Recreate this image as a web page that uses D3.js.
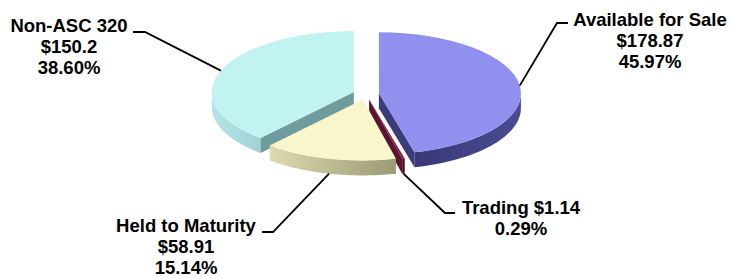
<!DOCTYPE html>
<html>
<head>
<meta charset="utf-8">
<script src="https://cdn.jsdelivr.net/npm/d3@7"></script>
<style>
  html, body { margin: 0; padding: 0; background: #fff; }
  svg { display: block; }
  text { font-family: "Liberation Sans", Arial, sans-serif; font-weight: bold; font-size: 18.5px; fill: #000; }
</style>
</head>
<body>
<div id="chart"></div>
<script>
// data
const categories = ["Available for Sale", "Trading", "Held to Maturity", "Non-ASC 320"];
const amounts = [178.87, 1.14, 58.91, 150.2];
const amountLabels = ["$178.87", "$1.14", "$58.91", "$150.2"];
const percentLabels = ["45.97%", "0.29%", "15.14%", "38.60%"];

const width = 732;
const height = 279;

// pie geometry
const cx = 366, cy = 94;
const rx = 142, ry = 61;
const depth = 15;
const explode = 13;
const k = ry / rx;

const colors = {
    "Available for Sale": { top: "#9090ef", wall: ["#383877", "#4b4b92"], cut: "#3b3b7a" },
    "Trading":            { top: "#7a2243", wall: ["#4a0f25", "#4a0f25"], cut: "#5a1431" },
    "Held to Maturity":   { top: "#f8f6cb", wall: ["#dcdab0", "#9c9a74"], cut: "#b4b28c" },
    "Non-ASC 320":        { top: "#c2f3f3", wall: ["#b4e4e7", "#a3d2d6"], cut: "#6e9c9d" }
};

// label layout: text centre x, first baseline, line elbow
const labelLayout = {
    "Available for Sale": { x: 650, y: 26, lines: d => [d.cat, d.amt, d.pct], from: [568, 23], elbow: [557, 23] },
    "Trading":            { x: 521, y: 214, lines: d => [d.cat + " " + d.amt, d.pct], from: [455, 213], elbow: [445, 213] },
    "Held to Maturity":   { x: 186, y: 232, lines: d => [d.cat, d.amt, d.pct], from: [262, 232], elbow: [273, 232] },
    "Non-ASC 320":        { x: 69, y: 32, lines: d => [d.cat, d.amt, d.pct], from: [133, 32], elbow: [145, 32] }
};
const lineH = 21;

const svg = d3.select("#chart")
    .append("svg")
    .attr("width", width)
    .attr("height", height);

const defs = svg.append("defs");

const pie = d3.pie().sort(null).value(d => d.value);
const arcs = pie(categories.map((c, i) => ({
    cat: c, value: amounts[i], amt: amountLabels[i], pct: percentLabels[i]
})));

const pt = (a, r = rx) => [r * Math.sin(a), -r * Math.cos(a) * k];
const line = d3.line();
const arcGen = d3.arc().innerRadius(0).outerRadius(rx);

// back slices first
const order = arcs.slice().sort((a, b) => {
    const ma = (a.startAngle + a.endAngle) / 2, mb = (b.startAngle + b.endAngle) / 2;
    return Math.cos(mb) - Math.cos(ma);
});

order.forEach((d, n) => {
    const mid = (d.startAngle + d.endAngle) / 2;
    const ox = explode * Math.sin(mid), oy = -explode * Math.cos(mid) * k;
    const col = colors[d.data.cat];
    const g = svg.append("g").attr("transform", `translate(${cx + ox},${cy + oy})`);

    // outer wall (front half only)
    const a0 = Math.max(d.startAngle, Math.PI / 2);
    const a1 = Math.min(d.endAngle, Math.PI * 3 / 2);
    if (a1 > a0) {
        const steps = d3.range(0, 41).map(i => a0 + (a1 - a0) * i / 40);
        const topPts = steps.map(a => pt(a));
        const botPts = steps.slice().reverse().map(a => { const p = pt(a); return [p[0], p[1] + depth]; });
        const gid = "wall" + n;
        const xs = topPts.map(p => p[0]);
        const grad = defs.append("linearGradient").attr("id", gid)
            .attr("gradientUnits", "userSpaceOnUse")
            .attr("x1", d3.min(xs)).attr("x2", d3.max(xs)).attr("y1", 0).attr("y2", 0);
        grad.append("stop").attr("offset", 0).attr("stop-color", col.wall[0]);
        grad.append("stop").attr("offset", 1).attr("stop-color", col.wall[1]);
        g.append("path")
            .attr("d", line(topPts.concat(botPts)) + "Z")
            .attr("fill", `url(#${gid})`);
    }

    // cut faces that face the viewer
    const face = a => {
        const p = pt(a);
        return line([[0, 0], p, [p[0], p[1] + depth], [0, depth]]) + "Z";
    };
    if (Math.sin(d.startAngle) < -1e-6) g.append("path").attr("d", face(d.startAngle)).attr("fill", col.cut);
    if (Math.sin(d.endAngle) > 1e-6) g.append("path").attr("d", face(d.endAngle)).attr("fill", col.cut);

    // top face
    g.append("g").attr("transform", `scale(1,${k})`)
        .append("path")
        .attr("d", arcGen(d))
        .attr("fill", col.top);
});

// labels and leader lines
arcs.forEach(d => {
    const L = labelLayout[d.data.cat];
    const mid = (d.startAngle + d.endAngle) / 2;
    const ox = explode * Math.sin(mid), oy = -explode * Math.cos(mid) * k;
    const p = pt(mid);
    const front = Math.cos(mid) < 0;
    const end = [cx + ox + p[0], cy + oy + p[1] + (front ? depth : 0)];

    svg.append("path")
        .attr("d", line([L.from, L.elbow, end]))
        .attr("fill", "none")
        .attr("stroke", "#000")
        .attr("stroke-width", 1.8);

    const t = svg.append("text").attr("text-anchor", "middle");
    L.lines(d.data).forEach((s, i) => {
        t.append("tspan").attr("x", L.x).attr("y", L.y + i * lineH).text(s);
    });
});
</script>
</body>
</html>
